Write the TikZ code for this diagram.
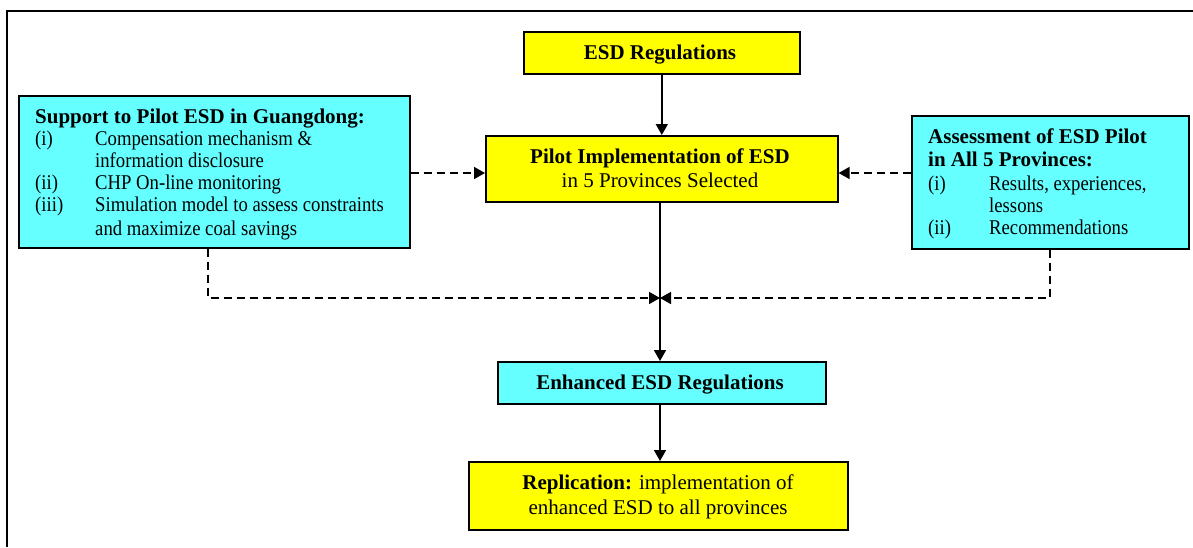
\documentclass[tikz,border=0pt]{standalone}
\usepackage{fontspec}
\setmainfont{Liberation Serif}
\newfontfamily\condensedserif[FakeStretch=0.89]{Liberation Serif}
\usetikzlibrary{arrows.meta}
\definecolor{boxyellow}{HTML}{FFFF00}
\definecolor{boxcyan}{HTML}{66FFFF}
\tikzset{
  every node/.style={font=\fontsize{21}{22}\selectfont, inner sep=0pt},
  panel/.style={draw, line width=1.6pt, rectangle, anchor=north west},
  ybox/.style={panel, fill=boxyellow},
  cbox/.style={panel, fill=boxcyan},
  txt/.style={anchor=base west},
  item/.style={anchor=base west, font=\condensedserif\fontsize{21}{22}\selectfont},
  ctxt/.style={anchor=base},
  link/.style={line width=1.6pt, -{Triangle[length=11pt,width=12pt]}},
  dlink/.style={link, dash pattern=on 8pt off 5pt},
}
\begin{document}
\begin{tikzpicture}[x=1pt,y=-1pt]
\useasboundingbox (0,0) rectangle (1193,547);

% outer frame (open to the right and below)
\draw[line width=1.8pt] (7,547) -- (7,11) -- (1193,11);

% boxes
\node[ybox, minimum width=276pt, minimum height=42pt] (esd) at (523,31) {};
\node[ybox, minimum width=352pt, minimum height=66pt] (pilot) at (485,135) {};
\node[cbox, minimum width=391pt, minimum height=152pt] (sup) at (18,95) {};
\node[cbox, minimum width=277pt, minimum height=133pt] (ass) at (911,115) {};
\node[cbox, minimum width=328pt, minimum height=42pt] (enh) at (497,361) {};
\node[ybox, minimum width=379pt, minimum height=68pt] (rep) at (468,461) {};

% box texts
\node[ctxt] (esdT) at (660,59) {\textbf{ESD Regulations}};
\node[ctxt] (pilotT1) at (660,163) {\textbf{Pilot Implementation of ESD}};
\node[ctxt] (pilotT2) at (660,187) {in 5 Provinces Selected};
\node[ctxt] (enhT) at (660,389) {\textbf{Enhanced ESD Regulations}};
\node[ctxt] (repT1) at (658,489) {\textbf{Replication:} implementation of};
\node[ctxt] (repT2) at (658,514) {enhanced ESD to all provinces};

\node[txt] (supH) at (35,123) {\textbf{Support to Pilot ESD in Guangdong:}};
\node[item] (supA) at (35,145) {(i)};
\node[item] (supA1) at (95,145) {Compensation mechanism \&};
\node[item] (supA2) at (95,167) {information disclosure};
\node[item] (supB) at (35,189) {(ii)};
\node[item] (supB1) at (95,189) {CHP On-line monitoring};
\node[item] (supC) at (35,211) {(iii)};
\node[item] (supC1) at (95,211) {Simulation model to assess constraints};
\node[item] (supC2) at (95,235) {and maximize coal savings};

\node[txt] (assH1) at (928,143) {\textbf{Assessment of ESD Pilot}};
\node[txt] (assH2) at (928,166) {\textbf{in All 5 Provinces:}};
\node[item] (assA) at (928,190) {(i)};
\node[item] (assA1) at (989,190) {Results, experiences,};
\node[item] (assA2) at (989,212) {lessons};
\node[item] (assB) at (928,234) {(ii)};
\node[item] (assB1) at (989,234) {Recommendations};

% connectors
\coordinate (side) at (0,173);
\coordinate (join) at (660,298);
\coordinate (supDrop) at (208,0);
\coordinate (assDrop) at (1050,0);

\draw[link] (esd) -- (pilot);
\draw[dlink] (sup.east |- side) -- (pilot.west |- side);
\draw[dlink] (ass.west |- side) -- (pilot.east |- side);
\draw[line width=1.6pt] (pilot.south -| join) -- (join);
\draw[link] (join) -- (enh.north -| join);
\draw[link] (enh.south -| join) -- (rep.north -| join);
\draw[dlink] (sup.south -| supDrop) |- (join);
\draw[dlink] (ass.south -| assDrop) |- (join);
\end{tikzpicture}
\end{document}
